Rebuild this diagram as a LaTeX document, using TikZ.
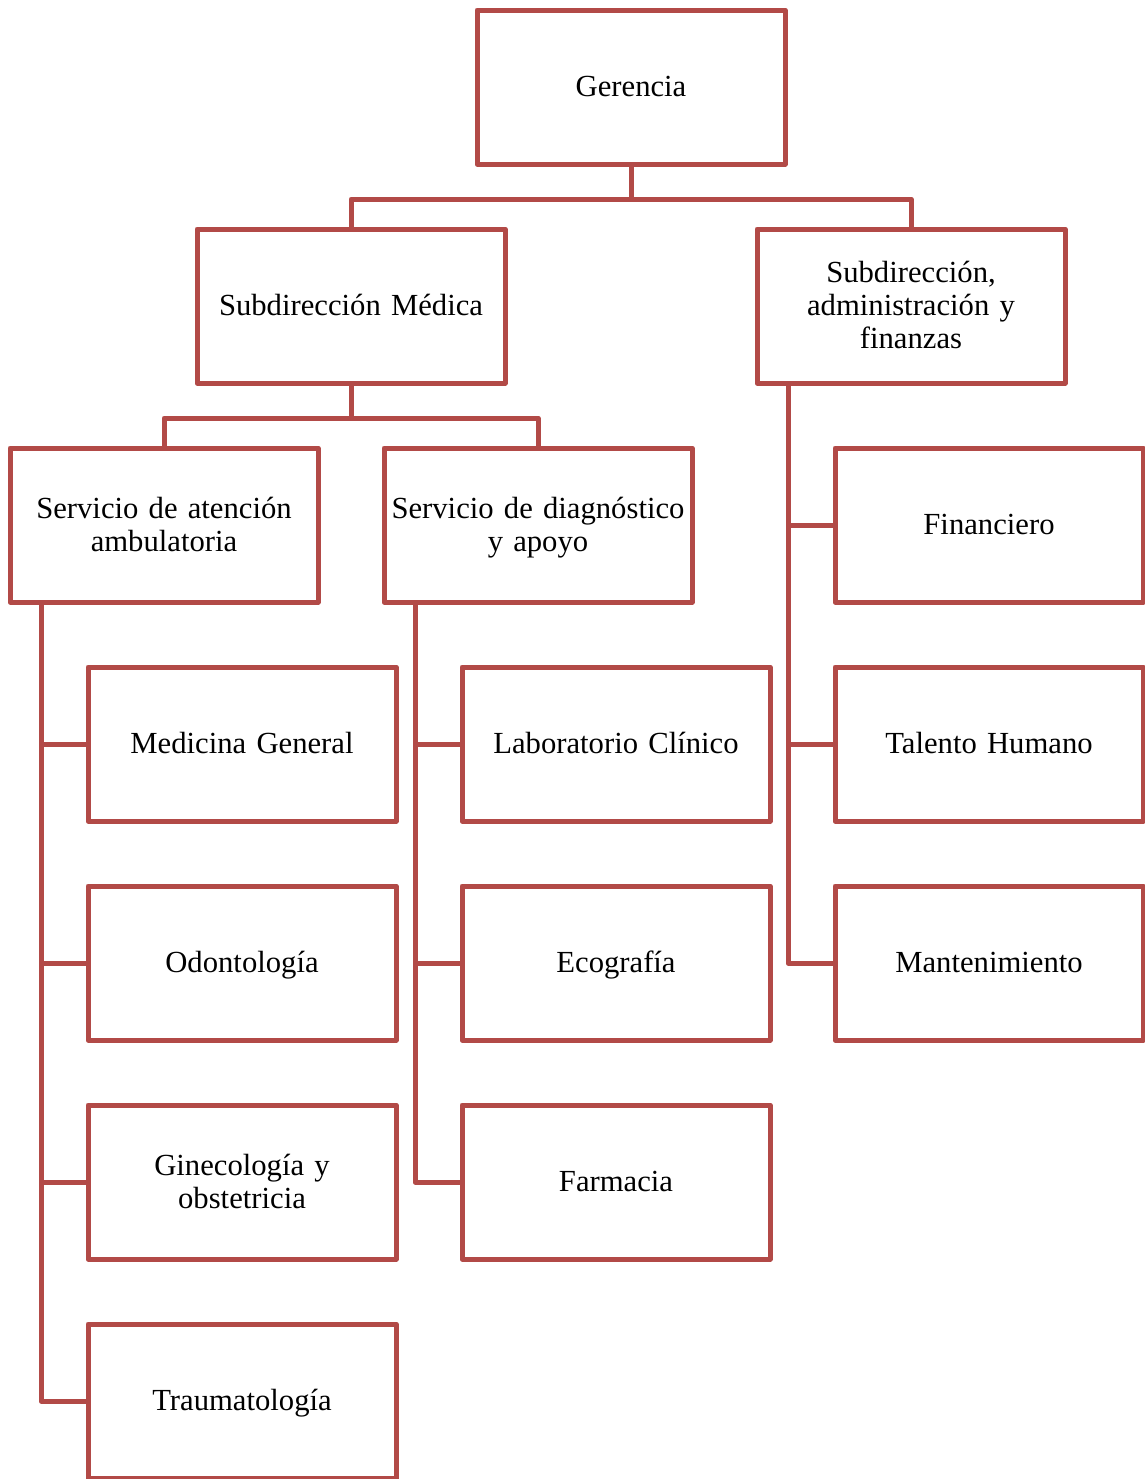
\documentclass[tikz,border=0pt]{standalone}
\usepackage{fontspec}
\setmainfont{Liberation Serif}
\usetikzlibrary{positioning}
\definecolor{boxred}{RGB}{178,74,71}
\newcommand{\boxstrut}{\rule[-5pt]{0pt}{24.5pt}}

\begin{document}
\begin{tikzpicture}[node distance=164.25pt,
    box/.style={rectangle,draw=boxred,line width=3.75pt,line join=round,minimum width=231pt,minimum height=115.5pt,
      text width=228pt,align=center,inner xsep=1pt,inner ysep=2pt,font=\fontsize{23}{24.75}\selectfont,
      execute at begin node=\boxstrut,execute at end node=\boxstrut},
    link/.style={draw=boxred,line width=3.75pt,line join=round}]

\useasboundingbox (0,0) rectangle (858.75pt,-1109.25pt);

\node[box]  (ger)                                   at (473.25pt,-65.25pt) {Gerencia};
\node[box]  (med)   [below of=ger, xshift=-210pt]   {Subdirección Médica};
\node[box]  (adm)   [below of=ger, xshift=210pt]    {Subdirección,\\administración y\\finanzas};
\node[box]  (amb)   [below of=med, xshift=-140.25pt] {Servicio de atención\\ambulatoria};
\node[box]  (diag)  [below of=med, xshift=140.25pt] {Servicio de diagnóstico\\y apoyo};

% atencion ambulatoria
\node[box]  (mgen)  [below of=amb, xshift=58.5pt]   {Medicina General};
\node[box]  (odon)  [below of=mgen]                 {Odontología};
\node[box]  (gine)  [below of=odon]                 {Ginecología y\\obstetricia};
\node[box]  (trau)  [below of=gine]                 {Traumatología};

% diagnostico y apoyo
\node[box]  (lab)   [below of=diag, xshift=58.5pt]  {Laboratorio Clínico};
\node[box]  (eco)   [below of=lab]                  {Ecografía};
\node[box]  (farm)  [below of=eco]                  {Farmacia};

% administracion
\node[box]  (fin)   [below of=adm, xshift=58.5pt]   {Financiero};
\node[box]  (tal)   [below of=fin]                  {Talento Humano};
\node[box]  (mant)  [below of=tal]                  {Mantenimiento};

\draw[link] (ger.south) -- ++(0,-24.4pt) -| (med.north);
\draw[link] (ger.south) -- ++(0,-24.4pt) -| (adm.north);
\draw[link] (med.south) -- ++(0,-24.4pt) -| (amb.north);
\draw[link] (med.south) -- ++(0,-24.4pt) -| (diag.north);

\foreach \c in {mgen,odon,gine,trau}
  \draw[link] ([xshift=-92.25pt]amb.south) |- (\c.west);
\foreach \c in {lab,eco,farm}
  \draw[link] ([xshift=-92.25pt]diag.south) |- (\c.west);
\foreach \c in {fin,tal,mant}
  \draw[link] ([xshift=-92.25pt]adm.south) |- (\c.west);
\end{tikzpicture}
\end{document}
